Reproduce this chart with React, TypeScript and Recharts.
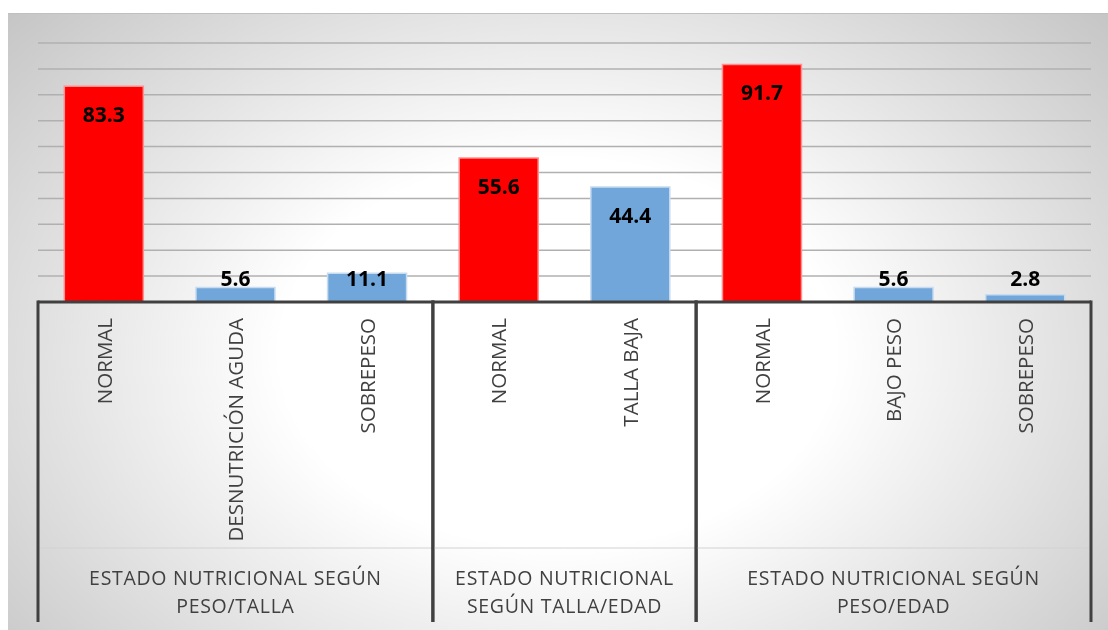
import React from 'react';
import { BarChart, Bar, XAxis, YAxis, CartesianGrid, Cell, LabelList } from 'recharts';

const categories = [
  'NORMAL',
  'DESNUTRICIÓN AGUDA',
  'SOBREPESO',
  'NORMAL',
  'TALLA BAJA',
  'NORMAL',
  'BAJO PESO',
  'SOBREPESO',
];
const values = [83.3, 5.6, 11.1, 55.6, 44.4, 91.7, 5.6, 2.8];
const groupTitles = [
  ['ESTADO NUTRICIONAL SEGÚN', 'PESO/TALLA'],
  ['ESTADO NUTRICIONAL', 'SEGÚN TALLA/EDAD'],
  ['ESTADO NUTRICIONAL SEGÚN', 'PESO/EDAD'],
];
const groupSizes = [3, 2, 3];
const yTicks = [0, 10, 20, 30, 40, 50, 60, 70, 80, 90, 100];

const data = categories.map((name, i) => ({ key: `c${i}`, name, value: values[i] }));

const WIDTH = 1100;
const HEIGHT = 617;
const MARGIN = { top: 30, right: 17, bottom: 0, left: 30 };
const BAND = (WIDTH - MARGIN.left - MARGIN.right) / categories.length;
const RED = '#FF0000';
const BLUE = '#70A6DA';
const FONT = '"Open Sans", sans-serif';

const CategoryTick = (props: any) => {
  const { x, y, payload } = props;
  const i = data.findIndex((d) => d.key === payload.value);
  let start = 0;
  let g = 0;
  for (; g < groupSizes.length; g++) {
    if (i < start + groupSizes[g]) break;
    start += groupSizes[g];
  }
  const size = groupSizes[g];
  const isFirst = i === start;
  const isLast = i === start + size - 1;
  const left = x - BAND / 2;
  const right = x + BAND / 2;
  const groupX = left + (size * BAND) / 2;

  return (
    <g>
      <text
        x={x}
        y={y + 16}
        transform={`rotate(-90 ${x} ${y + 16})`}
        textAnchor="end"
        dy="0.38em"
        fill="#404040"
        fontSize={20.5}
        fontFamily={FONT}
      >
        {categories[i]}
      </text>
      <line x1={left} x2={right} y1={y + 246} y2={y + 246} stroke="#d2d2d2" strokeWidth={1} />
      {isFirst && (
        <line x1={left} x2={left} y1={y - 1.5} y2={y + 320} stroke="#404040" strokeWidth={3} />
      )}
      {isLast && (
        <line x1={right} x2={right} y1={y - 1.5} y2={y + 320} stroke="#404040" strokeWidth={3} />
      )}
      {isFirst && (
        <text
          x={groupX}
          y={y + 283}
          textAnchor="middle"
          fill="#404040"
          fontSize={19.5}
          letterSpacing={0.7}
          fontFamily={FONT}
        >
          {groupTitles[g].map((t, k) => (
            <tspan key={k} x={groupX} dy={k === 0 ? 0 : 28}>
              {t}
            </tspan>
          ))}
        </text>
      )}
    </g>
  );
};

const ValueLabel = (props: any) => {
  const { x, y, width, height, value } = props;
  const cy = Math.min(y + 28, y + height - 24);
  return (
    <text
      x={x + width / 2}
      y={cy}
      textAnchor="middle"
      dominantBaseline="central"
      fill="#000"
      fontSize={21}
      fontWeight="bold"
      fontFamily={FONT}
    >
      {value.toFixed(1)}
    </text>
  );
};

export default function App() {
  return (
    <div
      style={{
        position: 'fixed',
        left: 8,
        top: 13,
        width: WIDTH,
        height: HEIGHT,
        background:
          'radial-gradient(ellipse 72% 90% at 50% 55%, #ffffff 35%, #bebebe 100%)',
        borderTop: '1px solid #c0c0c0',
        boxSizing: 'border-box',
      }}
    >
      <BarChart
        width={WIDTH}
        height={HEIGHT}
        data={data}
        margin={MARGIN}
        barCategoryGap="20%"
        style={{ position: 'absolute', left: 0, top: -1 }}
      >
        <CartesianGrid vertical={false} stroke="#b0b0b0" strokeWidth={1.5} />
        <YAxis hide width={0} domain={[0, 100]} ticks={yTicks} />
        <XAxis
          dataKey="key"
          interval={0}
          height={328}
          tickSize={0}
          tickMargin={0}
          tickLine={false}
          axisLine={{ stroke: '#404040', strokeWidth: 3 }}
          tick={<CategoryTick />}
        />
        <Bar dataKey="value" isAnimationActive={false}>
          {data.map((d) => (
            <Cell
              key={d.key}
              fill={d.name === 'NORMAL' ? RED : BLUE}
              stroke={d.name === 'NORMAL' ? '#ff9090' : '#c8dcf0'}
              strokeWidth={1.5}
            />
          ))}
          <LabelList dataKey="value" content={<ValueLabel />} />
        </Bar>
      </BarChart>
    </div>
  );
}
